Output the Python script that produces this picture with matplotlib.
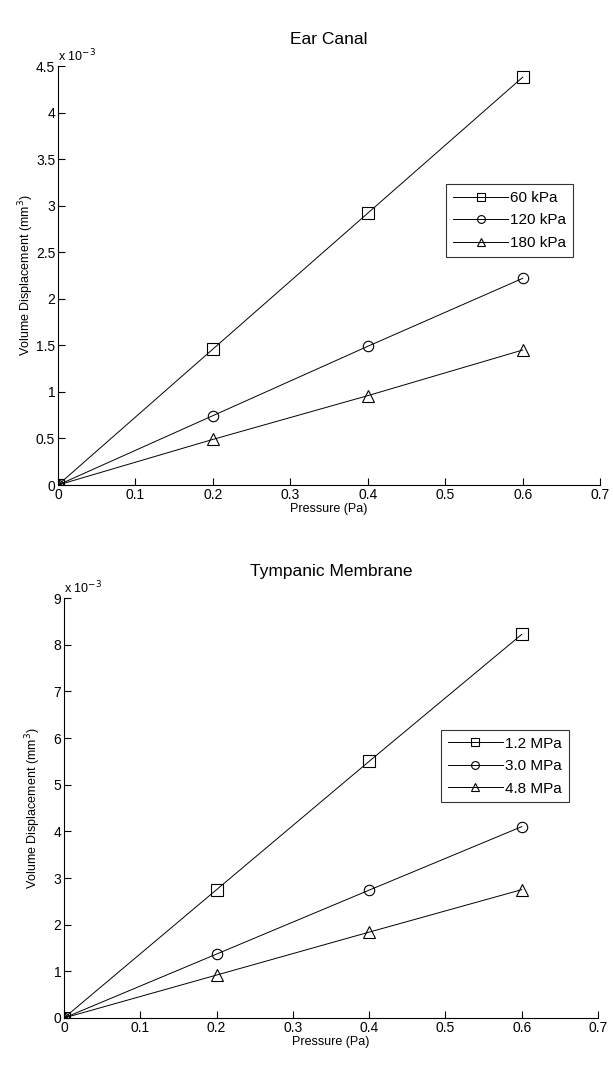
import matplotlib
matplotlib.use("Agg")
import matplotlib.pyplot as plt
from matplotlib.ticker import FuncFormatter, MultipleLocator

plt.rcParams['font.family'] = ['Liberation Sans', 'DejaVu Sans']

pressure = [0.0, 0.2, 0.4, 0.6]

# Ear canal: volume displacement (mm^3) per stiffness
ear_labels = ['60 kPa', '120 kPa', '180 kPa']
ear_60 = [0.0, 1.46e-3, 2.92e-3, 4.38e-3]
ear_120 = [0.0, 0.745e-3, 1.49e-3, 2.22e-3]
ear_180 = [0.0, 0.49e-3, 0.96e-3, 1.45e-3]

# Tympanic membrane: volume displacement (mm^3) per stiffness
tm_labels = ['1.2 MPa', '3.0 MPa', '4.8 MPa']
tm_12 = [0.0, 2.75e-3, 5.50e-3, 8.22e-3]
tm_30 = [0.0, 1.37e-3, 2.74e-3, 4.10e-3]
tm_48 = [0.0, 0.92e-3, 1.84e-3, 2.75e-3]

x_ticks = [0, 0.1, 0.2, 0.3, 0.4, 0.5, 0.6, 0.7]
markers = ['s', 'o', '^']

fig = plt.figure(figsize=(6.13, 10.70), dpi=100)
ax1 = fig.add_axes([0.0946, 0.5467, 0.8845, 0.3916])
ax2 = fig.add_axes([0.1044, 0.0486, 0.8711, 0.3925])


def style(ax, series, labels, title, ymax, ystep, legend_loc, ylabel_x):
    for vals, lab, m in zip(series, labels, markers):
        ax.plot(pressure, vals, color='black', linewidth=0.7, marker=m,
                markersize=8 if m != 'o' else 7.5, markerfacecolor='none',
                markeredgecolor='black', markeredgewidth=0.8, label=lab)
    ax.set_xlim(0, 0.7)
    ax.set_ylim(0, ymax)
    ax.set_xticks(x_ticks)
    ax.xaxis.set_major_formatter(FuncFormatter(lambda v, p: '%g' % round(v, 3)))
    ax.yaxis.set_major_locator(MultipleLocator(ystep))
    ax.yaxis.set_major_formatter(FuncFormatter(lambda v, p: '%g' % round(v * 1e3, 3)))
    for s in ('top', 'right'):
        ax.spines[s].set_visible(False)
    for s in ('left', 'bottom'):
        ax.spines[s].set_linewidth(0.8)
    ax.tick_params(direction='in', length=5, width=0.8, labelsize=10, pad=2)
    ax.set_xlabel('Pressure (Pa)', fontsize=9, labelpad=1)
    ax.set_ylabel('Volume Displacement (mm$^3$)', fontsize=9)
    ax.yaxis.set_label_coords(ylabel_x, 0.5)
    ax.set_title(title, fontsize=12.5, pad=16)
    ax.text(0.0, 1.005, 'x 10$^{-3}$', transform=ax.transAxes, fontsize=9,
            ha='left', va='bottom')
    leg = ax.legend(loc='upper left', bbox_to_anchor=legend_loc, fontsize=11,
                    frameon=True, fancybox=False, edgecolor='black',
                    handlelength=3.6, borderpad=0.45, labelspacing=0.55,
                    handletextpad=0.15, markerscale=0.75, borderaxespad=0)
    leg.get_frame().set_linewidth(0.8)


style(ax1, [ear_60, ear_120, ear_180], ear_labels, 'Ear Canal', 4.5e-3, 0.5e-3,
      (0.716, 0.718), -0.041)
style(ax2, [tm_12, tm_30, tm_48], tm_labels, 'Tympanic Membrane', 9e-3, 1e-3,
      (0.706, 0.686), -0.039)

fig.savefig('out.png', dpi=100, facecolor='white')
